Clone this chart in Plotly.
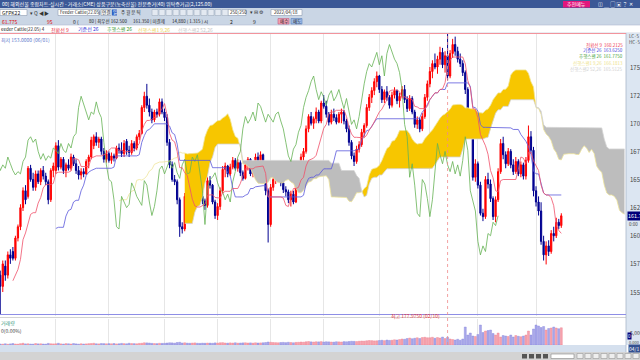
import numpy as np
import pandas as pd
import plotly.graph_objects as go

# ---------------- data ----------------
HOLIDAYS = ["2021-05-31", "2021-07-05", "2021-09-06", "2021-11-25", "2021-12-24",
            "2022-01-17", "2022-02-21", "2022-04-15"]

opens = [
    156.0, 156.8, 157.0,
    156.5, 155.5, 157.3, 156.5, 158.3, 158.6, 158.0, 159.8, 160.8, 162.5, 164.0, 163.5, 166.0, 165.0, 164.3, 165.5, 164.8, 165.8, 165.3, 164.8, 163.2, 165.8,
    165.8, 168.0, 166.1, 166.8, 165.8, 166.3, 166.0, 167.0, 166.4, 165.8, 165.4, 165.7, 165.5, 166.6, 167.0, 168.0, 168.8, 168.3, 168.6, 167.5, 166.8,
    167.3, 166.7, 167.1, 166.9, 167.8, 167.6, 167.3, 168.4, 167.6, 167.4, 168.2, 167.8, 168.8, 169.1, 171.4, 172.4, 171.6, 171.0, 170.3, 171.0, 170.8, 171.9,
    171.0, 170.5, 168.3, 166.3, 165.0, 164.8, 163.2, 160.8, 160.6, 163.5, 163.0, 162.5, 162.8, 164.7, 164.2, 163.5, 163.1, 162.7, 164.9, 164.5, 163.0,
    161.8, 162.6, 164.0, 165.9, 166.2, 165.5, 166.1, 166.7, 166.0, 166.5, 165.6, 165.1, 166.3, 166.8, 165.5, 165.6, 167.0, 166.6, 167.2, 165.8, 164.0,
    161.0, 164.3, 165.0, 165.2, 165.6, 164.7, 164.1, 163.9, 163.2, 163.7, 163.0, 164.8, 165.7, 167.0, 167.5, 169.5, 170.6, 170.0, 170.4, 171.0, 170.2,
    171.8, 171.5, 170.8, 170.1, 170.8, 170.5, 170.1, 170.8, 171.0, 170.2, 169.5, 168.3, 167.1, 166.6, 167.7, 168.1, 169.2, 169.8, 171.4, 172.3, 172.9, 173.7,
    174.2, 173.0, 172.1, 172.8, 172.3, 171.6, 172.5, 172.9, 172.0, 172.4, 173.0, 172.1, 171.3, 172.2, 171.0, 169.9, 170.3, 169.5, 170.6, 172.3,
    173.5, 174.6, 175.3, 175.0, 175.7, 176.3, 175.2, 176.0, 174.2, 176.2, 177.0, 176.4, 175.7, 175.3, 174.5, 173.0, 169.9, 168.8, 165.2,
    166.4, 164.5, 162.0, 161.7, 165.0, 164.6, 163.3, 161.7, 163.2, 165.7, 168.2, 167.2, 166.4, 167.5, 166.3, 165.7, 166.6, 165.5, 166.3, 165.3, 166.7, 168.8, 167.6,
    164.0, 163.0, 162.2, 159.5, 158.3, 159.1, 158.6, 160.2, 160.0, 161.2, 160.9,
]
highs = [
    157.2, 157.5, 157.3,
    156.9, 157.8, 157.8, 158.6, 158.8, 159.0, 160.0, 161.0, 162.8, 164.3, 164.5, 166.2, 166.3, 165.6, 165.8, 165.8, 166.0, 166.2, 165.6, 165.0, 166.0, 166.5,
    168.3, 168.5, 167.0, 167.0, 166.5, 166.8, 167.3, 167.2, 166.8, 166.2, 166.0, 166.0, 166.8, 167.2, 168.8, 169.0, 169.2, 168.8, 168.8, 167.8, 167.6,
    167.5, 167.4, 167.3, 168.0, 168.2, 168.3, 168.5, 168.6, 168.0, 168.5, 168.4, 169.0, 169.4, 171.6, 172.8, 173.5, 172.2, 171.3, 171.2, 171.3, 172.2, 172.2,
    171.3, 170.8, 168.6, 166.6, 165.4, 165.0, 163.4, 161.2, 163.8, 164.2, 163.4, 163.0, 165.0, 165.2, 164.9, 163.9, 163.3, 165.2, 165.3, 164.6, 163.2,
    162.9, 164.3, 166.2, 166.5, 166.3, 166.4, 167.0, 166.9, 166.8, 166.7, 165.8, 166.6, 167.0, 166.9, 166.0, 167.3, 167.4, 167.5, 167.3, 166.0, 164.2,
    164.6, 165.3, 165.5, 165.8, 165.7, 165.0, 164.4, 164.1, 164.0, 164.0, 165.0, 166.0, 167.3, 167.8, 169.8, 170.8, 171.0, 170.6, 171.4, 171.2, 172.0,
    172.5, 172.0, 171.0, 171.2, 171.3, 170.8, 171.0, 171.3, 171.2, 170.4, 169.8, 168.5, 167.4, 168.0, 168.4, 169.5, 170.0, 171.7, 172.6, 173.2, 174.0, 174.6,
    174.3, 173.3, 173.0, 173.3, 172.5, 172.8, 173.2, 173.0, 172.7, 173.3, 173.4, 172.4, 172.5, 172.4, 171.2, 170.6, 170.5, 170.9, 172.6, 173.8,
    175.0, 175.6, 176.2, 176.0, 176.8, 176.7, 176.4, 177.975, 176.5, 177.5, 177.7, 176.8, 176.2, 175.6, 174.7, 173.2, 170.3, 169.0, 166.8,
    166.6, 164.8, 162.4, 165.3, 165.6, 165.0, 163.5, 163.5, 166.0, 168.6, 168.8, 167.5, 167.8, 167.7, 166.8, 167.0, 166.8, 166.6, 166.5, 167.0, 169.8, 169.3, 167.9,
    164.4, 163.5, 162.975, 160.0, 159.5, 159.6, 160.5, 160.8, 161.6, 161.5, 162.0,
]
lows = [
    155.6, 156.2, 155.8,
    153.0, 155.0, 156.0, 156.2, 157.5, 157.8, 157.8, 159.5, 160.5, 162.2, 162.8, 163.3, 164.8, 164.0, 164.0, 164.6, 164.5, 165.0, 164.5, 162.8, 163.0, 165.2,
    165.5, 165.8, 165.9, 165.5, 165.2, 165.8, 165.8, 166.2, 165.5, 165.0, 165.0, 165.2, 165.4, 166.0, 166.8, 167.7, 168.0, 167.8, 167.2, 166.5, 166.5,
    166.5, 166.4, 166.6, 166.8, 167.3, 167.0, 167.0, 167.2, 167.0, 167.2, 167.5, 167.6, 168.5, 169.0, 171.0, 171.3, 170.6, 170.0, 170.1, 170.5, 170.6, 170.8,
    170.2, 168.0, 166.0, 164.8, 164.5, 162.8, 159.9, 160.2, 160.4, 162.6, 162.2, 162.0, 162.6, 163.8, 163.2, 162.8, 162.3, 162.5, 164.2, 162.8, 161.5,
    161.4, 162.3, 163.8, 165.2, 165.2, 165.3, 165.9, 165.8, 165.7, 165.3, 164.9, 165.0, 165.8, 165.3, 165.2, 165.4, 166.3, 166.4, 165.6, 163.6, 159.4,
    160.8, 164.0, 164.6, 164.8, 164.4, 163.8, 163.5, 162.9, 162.6, 162.8, 162.9, 164.5, 165.5, 166.6, 167.3, 169.2, 169.8, 169.5, 170.0, 170.0, 170.0,
    171.3, 170.5, 169.8, 169.9, 170.2, 169.9, 170.0, 170.0, 169.9, 169.2, 168.0, 166.8, 166.2, 166.4, 167.4, 167.9, 168.8, 169.6, 171.1, 171.8, 172.5, 173.2,
    172.7, 171.8, 171.8, 172.0, 171.3, 171.4, 172.2, 171.7, 171.4, 172.2, 171.8, 171.0, 171.1, 170.8, 169.6, 169.5, 169.2, 169.3, 170.4, 172.0,
    173.2, 174.0, 174.8, 174.4, 175.2, 174.9, 174.5, 173.8, 174.0, 175.8, 176.0, 175.4, 175.0, 174.2, 172.6, 169.6, 168.6, 164.9, 164.8,
    164.2, 161.8, 161.3, 161.5, 164.2, 163.0, 161.4, 161.2, 163.0, 165.5, 166.8, 166.0, 166.2, 166.0, 165.4, 165.5, 165.3, 165.2, 165.0, 165.0, 166.5, 167.3, 163.5,
    162.6, 161.8, 159.2, 157.8, 157.45, 158.2, 158.4, 159.5, 159.8, 160.6, 160.7,
]
closes = [
    156.8, 157.0, 156.5,
    155.5, 157.5, 156.5, 158.3, 158.0, 158.0, 159.8, 160.8, 162.5, 164.0, 163.2, 166.0, 165.0, 164.3, 165.5, 164.8, 165.8, 165.3, 164.8, 163.2, 165.8, 166.2,
    168.0, 166.1, 166.8, 165.8, 166.3, 166.0, 167.0, 166.4, 165.8, 165.4, 165.7, 165.5, 166.6, 167.0, 168.5, 168.8, 168.3, 168.6, 167.5, 166.8, 167.3,
    166.7, 167.1, 166.9, 167.8, 167.6, 167.3, 168.2, 167.6, 167.4, 168.2, 167.8, 168.8, 169.1, 171.4, 172.4, 171.6, 171.0, 170.3, 171.0, 170.8, 171.9, 171.0,
    170.5, 168.3, 166.3, 165.0, 164.8, 163.2, 160.8, 160.6, 163.5, 163.0, 162.5, 162.8, 164.7, 164.2, 163.5, 163.1, 162.7, 164.9, 164.5, 163.0, 161.8,
    162.6, 164.0, 165.9, 166.2, 165.5, 166.1, 166.7, 166.0, 166.5, 165.6, 165.1, 166.3, 166.8, 165.5, 165.6, 167.0, 166.6, 167.2, 165.8, 164.0, 161.0,
    164.3, 165.0, 165.2, 165.6, 164.7, 164.1, 163.9, 163.2, 163.7, 163.0, 164.8, 165.7, 167.0, 167.5, 169.5, 170.6, 170.0, 170.4, 171.0, 170.2, 171.8,
    171.5, 170.8, 170.1, 170.8, 170.5, 170.1, 170.8, 171.0, 170.2, 169.5, 168.3, 167.1, 166.6, 167.7, 168.1, 169.2, 169.8, 171.4, 172.3, 172.9, 173.7, 174.2,
    173.0, 172.1, 172.8, 172.3, 171.6, 172.5, 172.9, 172.0, 172.4, 173.0, 172.1, 171.3, 172.2, 171.0, 169.9, 170.3, 169.5, 170.6, 172.3, 173.5,
    174.6, 175.3, 175.0, 175.7, 176.3, 175.2, 176.0, 174.2, 176.2, 177.0, 176.4, 175.7, 175.3, 174.5, 173.0, 169.9, 168.8, 165.2, 166.4,
    164.5, 162.0, 161.7, 165.0, 164.6, 163.3, 161.7, 163.2, 165.7, 168.2, 167.2, 166.4, 167.5, 166.3, 165.7, 166.6, 165.5, 166.3, 165.3, 166.7, 168.8, 167.6, 164.0,
    163.0, 162.2, 159.5, 158.3, 159.1, 158.6, 160.2, 160.0, 161.2, 160.9, 161.775,
]
volumes = [
    300, 250, 350,
    400, 350, 500, 300, 450, 600, 400, 350, 550, 700, 450, 500, 400, 350, 600, 450, 500, 400, 350, 650, 500, 450,
    500, 700, 450, 400, 550, 500, 400, 600, 450, 350, 500, 400, 450, 550, 600, 700, 500, 450, 600, 550, 500,
    550, 500, 600, 450, 500, 650, 550, 500, 700, 600, 550, 500, 650, 700, 900, 850, 800, 650, 600, 550, 700, 650,
    700, 800, 900, 850, 750, 1000, 1100, 800, 900, 750, 700, 800, 850, 700, 650, 750, 700, 800, 750, 700, 850,
    800, 900, 950, 800, 750, 850, 800, 900, 750, 800, 850, 900, 800, 850, 750, 900, 800, 850, 900, 1000, 1200,
    1100, 1000, 950, 900, 1000, 1050, 950, 1100, 1000, 900, 1050, 1100, 1200, 1150, 1300, 1400, 1250, 1200, 1300, 1250, 1350,
    1200, 1300, 1250, 1200, 1150, 1300, 1250, 1200, 1350, 1300, 1400, 1500, 1450, 1400, 1500, 1600, 1550, 1700, 1800, 1750, 1650, 1700,
    1800, 1900, 1750, 2000, 1850, 1900, 2100, 2000, 2200, 2400, 2300, 2600, 2800, 2500, 2700, 2900, 2600, 3000, 3100, 2900,
    2900, 3100, 2700, 3000, 2800, 3200, 2600, 3100, 2400, 2200, 2000, 2300, 1900, 2400, 7200, 4000, 4800, 3600, 3400,
    4200, 8000, 5000, 5600, 5800, 6000, 4600, 4000, 4800, 3200, 3800, 3600, 3400, 4000, 3200, 3800, 3500, 3300, 3600, 4000, 5600, 4000, 6400,
    8000, 7600, 7000, 7400, 6000, 6600, 6800, 7200, 6800, 6500, 6900,
]
month_labels = ["2021/06", "07", "08", "09", "10", "11", "12", "2022/01", "02", "03", "04"]
price_ticks = [155.0, 157.5, 160.0, 162.5, 165.0, 167.5, 170.0, 172.5, 175.0]
HIGHEST = 177.975
LOWEST = 153.0
SHIFT = 25

# ---------------- calc ----------------
n = len(closes)
dates = [d for d in pd.bdate_range("2021-05-26", "2022-04-18") if d.strftime("%Y-%m-%d") not in HOLIDAYS][:n]
xs = np.arange(n)
month_idx = [k for k in range(1, len(dates)) if dates[k].month != dates[k - 1].month]

H = pd.Series(highs); L = pd.Series(lows)
tenkan = ((H.rolling(9).max() + L.rolling(9).min()) / 2).values
kijun = ((H.rolling(26).max() + L.rolling(26).min()) / 2).values
span_a = (tenkan + kijun) / 2
span_b = ((H.rolling(52).max() + L.rolling(52).min()) / 2).values
lead_x = xs + SHIFT
lag_x = xs - SHIFT

valid = ~(np.isnan(span_a) | np.isnan(span_b))
X = lead_x[valid].astype(float); A = span_a[valid]; B = span_b[valid]
polys = {True: ([], []), False: ([], [])}


def flush(flag, rx, ra, rb):
    px, py_ = polys[flag]
    px += rx + rx[::-1] + [None]
    py_ += ra + rb[::-1] + [None]


rx, ra, rb = [X[0]], [A[0]], [B[0]]
cur = A[0] >= B[0]
for k in range(1, len(X)):
    s = A[k] >= B[k]
    if s != cur:
        d0 = A[k - 1] - B[k - 1]; d1 = A[k] - B[k]
        t = d0 / (d0 - d1)
        cx = X[k - 1] + t * (X[k] - X[k - 1]); cy = A[k - 1] + t * (A[k] - A[k - 1])
        rx.append(cx); ra.append(cy); rb.append(cy)
        flush(cur, rx, ra, rb)
        rx, ra, rb = [cx], [cy], [cy]
        cur = s
    rx.append(X[k]); ra.append(A[k]); rb.append(B[k])
flush(cur, rx, ra, rb)

# ---------------- figure ----------------
W, Hh = 640, 360
PLOT_R = 626
MAIN_TOP, MAIN_BOT = 33, 316
VOL_TOP, VOL_BOT = 319, 345
X0, X1 = 2.9, 250.6
Y_LO = 175 - (MAIN_BOT - 67) / 11.25
Y_HI = 175 + (67 - MAIN_TOP) / 11.25


def py(p):
    return 1 - p / Hh


def pxp(p):
    return p / W


fig = go.Figure()
fig.add_trace(go.Scatter(x=polys[True][0], y=polys[True][1], fill="toself", fillcolor="#f7c600",
                         line=dict(width=0), mode="lines", hoverinfo="skip"))
fig.add_trace(go.Scatter(x=polys[False][0], y=polys[False][1], fill="toself", fillcolor="#bdbdbd",
                         line=dict(width=0), mode="lines", hoverinfo="skip"))
fig.add_trace(go.Scatter(x=lead_x, y=span_a, mode="lines", line=dict(color="#efe49a", width=0.8)))
fig.add_trace(go.Scatter(x=lead_x, y=span_b, mode="lines", line=dict(color="#d4d4d4", width=0.8)))
fig.add_trace(go.Scatter(x=lag_x, y=closes, mode="lines", line=dict(color="#66b254", width=0.8)))
fig.add_trace(go.Scatter(x=xs, y=kijun, mode="lines", line=dict(color="#5a58dc", width=0.8)))
fig.add_trace(go.Scatter(x=xs, y=tenkan, mode="lines", line=dict(color="#f0506a", width=0.8)))
fig.add_trace(go.Candlestick(x=xs, open=opens, high=highs, low=lows, close=closes,
                             increasing=dict(line=dict(color="#ff0000", width=1), fillcolor="#ff0000"),
                             decreasing=dict(line=dict(color="#000090", width=1), fillcolor="#000090"),
                             whiskerwidth=0))
vcol = ["#f6a3ae" if c >= o else "#a9a8ea" for o, c in zip(opens, closes)]
vline = ["#ee7d8d" if c >= o else "#8584dc" for o, c in zip(opens, closes)]
fig.add_trace(go.Bar(x=xs, y=volumes, marker=dict(color=vcol, line=dict(color=vline, width=0.4)),
                     width=0.8, xaxis="x2", yaxis="y2"))

grid = dict(showgrid=True, gridcolor="#e6e6e6", gridwidth=1, zeroline=False)
fig.update_layout(
    width=W, height=Hh, margin=dict(l=0, r=0, t=0, b=0),
    paper_bgcolor="white", plot_bgcolor="white", showlegend=False,
    font=dict(family="Noto Sans CJK KR, Noto Sans, sans-serif", size=6, color="#333"),
    xaxis=dict(domain=[0, PLOT_R / W], range=[X0, X1], tickvals=month_idx, showticklabels=False,
               rangeslider=dict(visible=False), anchor="y", **grid),
    yaxis=dict(domain=[py(MAIN_BOT), py(MAIN_TOP)], range=[Y_LO, Y_HI],
               side="right", anchor="x", tickvals=price_ticks, showticklabels=False,
               ticks="outside", ticklen=2, tickcolor="#8a9ab0", showgrid=False, zeroline=False),
    xaxis2=dict(domain=[0, PLOT_R / W], matches="x", anchor="y2", tickvals=month_idx, ticktext=month_labels,
                tickfont=dict(size=6, color="#666"), ticks="", **grid),
    yaxis2=dict(domain=[py(VOL_BOT), py(VOL_TOP)], range=[0, 10400], side="right", anchor="x2",
                tickvals=[5000], showticklabels=False, ticks="outside", ticklen=2, tickcolor="#8a9ab0",
                showgrid=False, zeroline=False),
)

shapes = []


def rect(x0, y0, x1, y1, fill, line=None, lw=0.6):
    shapes.append(dict(type="rect", xref="paper", yref="paper", x0=pxp(x0), x1=pxp(x1), y0=py(y1), y1=py(y0),
                       fillcolor=fill, line=dict(color=line or fill, width=lw if line else 0), layer="above"))


def hline(y0, x0, x1, color, width=1):
    shapes.append(dict(type="line", xref="paper", yref="paper", x0=pxp(x0), x1=pxp(x1), y0=py(y0), y1=py(y0),
                       line=dict(color=color, width=width), layer="above"))


# chrome
rect(0, 0, 640, 8, "#3b5896")
rect(563, 1, 590, 7.5, "#e3167c")
rect(0, 8, 640, 25, "#cad6e5")
rect(0, 25, 640, 33, "#ffffff")
hline(25, 0, 640, "#aebbd0", 0.6)
hline(33, 0, 640, "#b9c4d4", 0.6)
rect(PLOT_R, 33, 640, 345, "#dce6f2")
rect(0, 345, PLOT_R, 352, "#d5e0ee")
rect(0, 352, 640, 360, "#d3d3d3")
hline(317.5, 0, PLOT_R, "#c8c8c8", 0.8)
shapes.append(dict(type="line", xref="paper", yref="paper", x0=pxp(PLOT_R), x1=pxp(PLOT_R), y0=py(352), y1=py(33),
                   line=dict(color="#a8b6c9", width=0.8), layer="above"))
for (a, b) in [(0, 27), (58, 99), (228, 246), (271, 302)]:
    rect(a, 9.5, b, 15.5, "#ffffff", "#8d9bb0")
for a in range(152, 226, 7):
    rect(a, 9.5, a + 6, 15.5, "#e3e9f1", "#a3afc0")
rect(101, 9.5, 111, 15.5, "#eef2f7", "#8d9bb0")
rect(112, 9.5, 117, 15.5, "#2f62c4")
rect(278, 18.5, 289, 24, "#f3a0b4", "#c06080")
rect(291, 18.5, 302, 24, "#9cbbe8", "#5b7fb8")
for a in [522, 529, 536, 543]:
    rect(a, 354, a + 5, 358.5, "#555555")
rect(551, 354, 574, 358.5, "#ffffff", "#888888")
for a in range(577, 640, 8):
    rect(a, 353.5, a + 6, 358.5, "#eeeeee", "#999999")

shapes.append(dict(type="line", xref="paper", yref="y", x0=0, x1=PLOT_R / W, y0=HIGHEST, y1=HIGHEST,
                   line=dict(color="#f2939b", width=1), layer="above"))
shapes.append(dict(type="line", xref="paper", yref="y", x0=0, x1=PLOT_R / W, y0=LOWEST, y1=LOWEST,
                   line=dict(color="#8e8ee6", width=1), layer="above"))
max_pos = int(np.argmax(highs))
shapes.append(dict(type="line", xref="x", yref="paper", x0=max_pos, x1=max_pos, y0=py(VOL_BOT), y1=py(MAIN_TOP),
                   line=dict(color="#ef8a8a", width=0.8, dash="dot"), layer="above"))

anns = []


def txt(x, y, s, color="#222", size=6, anchor="left", bg=None, yref="paper"):
    anns.append(dict(x=pxp(x), y=py(y) if yref == "paper" else y, xref="paper", yref=yref, text=s,
                     showarrow=False, xanchor=anchor, yanchor="middle", bgcolor=bg, borderpad=0,
                     font=dict(size=size, color=color)))


# right price axis labels (values of the axis ticks)
for v in price_ticks:
    txt(628.5, v, f"{v:.1f}", "#444", 6, yref="y")
txt(628.5, 5000, "5,000", "#444", 5, yref="y2")

txt(1, 4, "00] 해외선물 종합차트-실시간 - 거래소(CME) 상품구분(농축산물) 전문증거(40) 위탁증거금(2,125.00)", "#ffffff", 5)
txt(576.5, 4.3, "추천메뉴", "#ffffff", 5, "center")
txt(597, 4.3, "◫ ＿ ▢ ▣ ？ ✕", "#ffffff", 5)
txt(1, 12.5, "GFPK22", "#222", 5)
txt(29, 12.5, "▾ Q ◀▶", "#333", 5)
txt(59, 12.5, "Feeder Cattle(22.05)", "#222", 4.3)
txt(106, 12.5, "연결", "#222", 4.5, "center")
txt(114.5, 12.5, "일", "#ffffff", 4.5, "center")
txt(120, 12.5, "주 월 분 틱", "#222", 4.5)
txt(229, 12.5, "250/250", "#222", 4.5)
txt(249, 12.5, "▾ ⊟ ⚙", "#333", 4.5)
txt(273, 12.5, "2022/04/18", "#222", 4.5)
txt(1, 21.3, "61.775", "#e00000", 5)
txt(46, 21.3, "95", "#e00000", 5)
txt(72, 21.3, "0 (", "#222", 5)
txt(88, 21.3, "80 | 최우선 162.500", "#222", 4.5)
txt(132, 21.3, "161.350 | 미결제", "#222", 4.5)
txt(171, 21.3, "14,880 ( 1.315 ) 시", "#222", 4.5)
txt(229, 21.3, "2", "#222", 5)
txt(252, 21.3, "9", "#222", 5)
txt(283.5, 21.3, "매수", "#222", 4.5, "center")
txt(296.5, 21.3, "매도", "#222", 4.5, "center")
txt(0, 29.3, "eeder Cattle(22.05) 4", "#222", 4.5)
txt(50, 29.3, "전환선 9", "#e8283c", 5)
txt(77, 29.3, "기준선 26", "#3434d8", 5)
txt(106, 29.3, "후행스팬 26", "#3a9a30", 5)
txt(137, 29.3, "선행스팬1 9,26", "#ecd45a", 5)
txt(177, 29.3, "선행스팬2 52,26", "#c8c8c8", 5)
txt(0, 40, "최저 153.0000 (06/01)", "#5d78cc", 5)
txt(624, 44.5, "전환선 9  160.2125", "#ee3b50", 4.5, "right")
txt(624, 50.5, "기준선 26  163.6250", "#4646dc", 4.5, "right")
txt(624, 56.5, "후행스팬 26  161.7750", "#45a03a", 4.5, "right")
txt(624, 62.5, "선행스팬1 9,26  166.1813", "#eedf8a", 4.5, "right")
txt(624, 68.5, "선행스팬2 52,26  165.5125", "#cfcfcf", 4.5, "right")
txt(390, 316, "최고 177.9750 (02/10)", "#e83c3c", 5)
txt(0, 323, "거래량", "#3a9a80", 5)
txt(0, 330, "0(0.00%)", "#444", 5)
txt(628, 36.5, "LC·5", "#444", 4.5)
txt(628, 42, "HC·5", "#444", 4.5)
anns.append(dict(x=pxp(627), y=closes[-1], xref="paper", yref="y", text="161.775", showarrow=False,
                 xanchor="left", yanchor="middle", bgcolor="#00007a", borderpad=0,
                 font=dict(size=5.5, color="#ffffff")))
txt(628, 224, "0:00", "#444", 4.5)
anns.append(dict(x=pxp(627), y=py(336), xref="paper", yref="paper", text="0", showarrow=False,
                 xanchor="left", yanchor="middle", bgcolor="#00007a", borderpad=0,
                 font=dict(size=4.5, color="#ffffff")))
txt(628, 342, "0.000", "#444", 4)
txt(628, 348.5, "04/1", "#ffffff", 5, bg="#345090")

fig.update_layout(shapes=shapes, annotations=anns)
fig.write_html("out.html")
